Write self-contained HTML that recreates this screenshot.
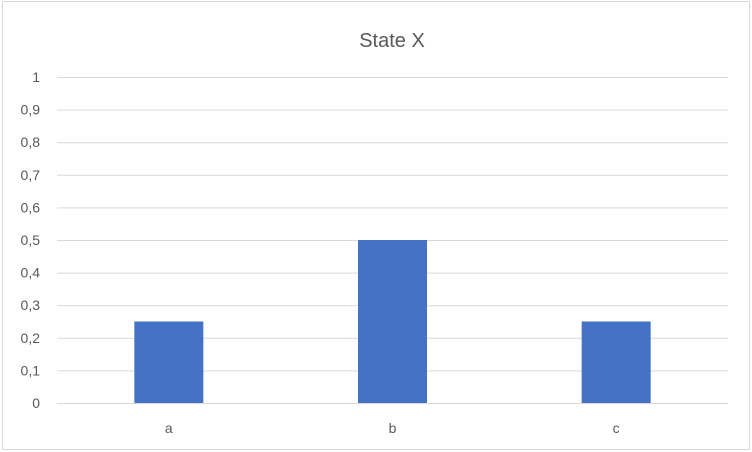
<!DOCTYPE html>
<html><head><meta charset="utf-8"><style>
html,body{margin:0;padding:0;background:#fff;}
svg{display:block;font-family:"Liberation Sans",sans-serif;}
</style></head><body>
<svg id="chart" width="752" height="452" viewBox="0 0 752 452" xmlns="http://www.w3.org/2000/svg">
<rect x="2.5" y="1.5" width="747" height="448" fill="#fff" stroke="#d9d9d9" stroke-width="1"/>
<text x="392" y="47" text-anchor="middle" font-size="20" fill="#595959">State X</text>
<g id="grid"></g><g id="bars"></g><g id="labels"></g>
</svg>
<script>
const categories = ['a','b','c'];
const values = [0.25, 0.5, 0.25];
const yTicks = [0,0.1,0.2,0.3,0.4,0.5,0.6,0.7,0.8,0.9,1];
const yTickLabels = ['0','0,1','0,2','0,3','0,4','0,5','0,6','0,7','0,8','0,9','1'];
const NS='http://www.w3.org/2000/svg';
const x0=57,x1=728,yBase=403,yTop=77;
const y=v=>yBase-(v/1)*(yBase-yTop);
const band=(x1-x0)/categories.length;
const xc=i=>x0+band*(i+0.5);
const bw=69;
const grid=document.getElementById('grid'),bars=document.getElementById('bars'),labels=document.getElementById('labels');
function mk(t,a){const e=document.createElementNS(NS,t);for(const k in a)e.setAttribute(k,a[k]);return e;}
yTicks.forEach((v,i)=>{
  const l=mk('line',{x1:x0,x2:x1,y1:y(v)+0.5,y2:y(v)+0.5,stroke:'#d9d9d9','stroke-width':1});
  
  
  grid.appendChild(l);
  const t=mk('text',{x:40,y:y(v)+5,'text-anchor':'end','font-size':14,fill:'#595959'});
  
  
  t.textContent=yTickLabels[i];labels.appendChild(t);
});
categories.forEach((c,i)=>{
  const r=mk('rect',{x:xc(i)-bw/2,y:y(values[i]),width:bw,height:yBase-y(values[i]),fill:'#4472c4'});
  
  
  bars.appendChild(r);
  const t=mk('text',{x:xc(i),y:433,'text-anchor':'middle','font-size':14,fill:'#595959'});
  
  
  t.textContent=c;labels.appendChild(t);
});
</script>
</body></html>
